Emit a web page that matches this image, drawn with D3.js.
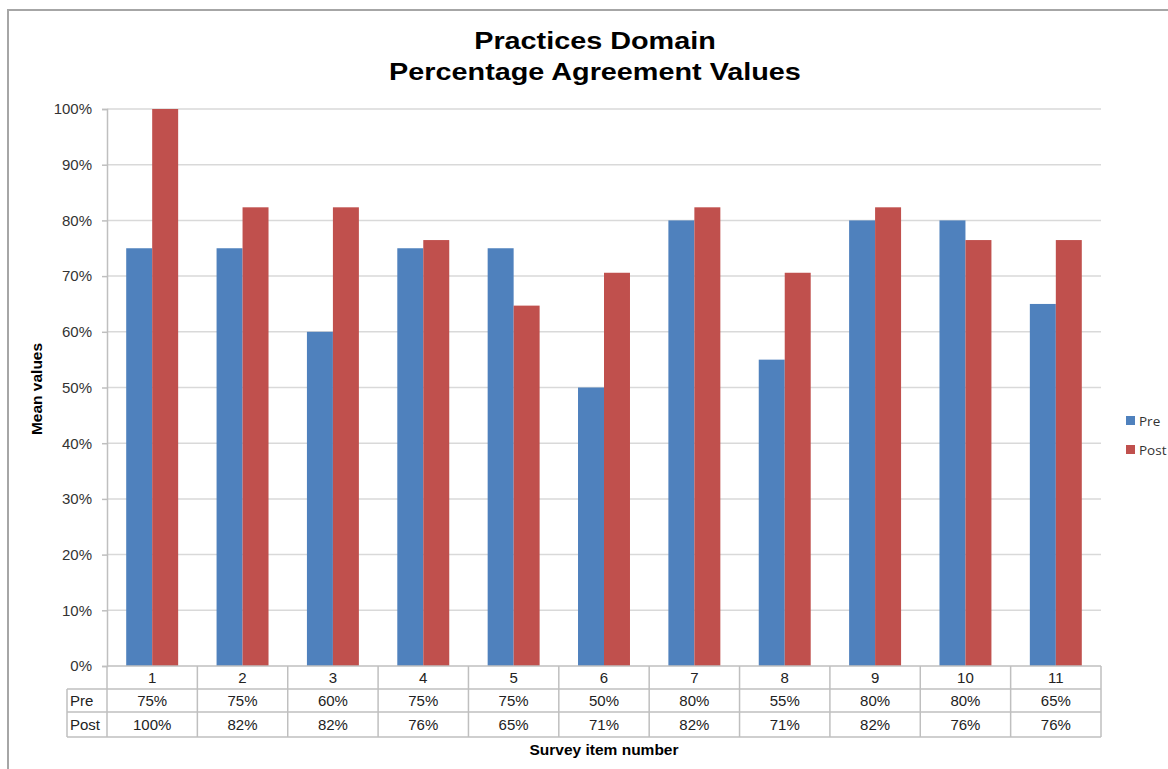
<!DOCTYPE html>
<html><head><meta charset="utf-8">
<script src="https://cdn.jsdelivr.net/npm/d3@7"></script>
<style>body{margin:0;background:#fff}svg{display:block}</style>
</head><body>
<script>
const categories = ["1","2","3","4","5","6","7","8","9","10","11"];
const preValues  = [0.75,0.75,0.60,0.75,0.75,0.50,0.80,0.55,0.80,0.80,0.65];
const postValues = [1.00,0.8235,0.8235,0.7647,0.647,0.706,0.8235,0.706,0.8235,0.7647,0.7647];
const preLabels  = ["75%","75%","60%","75%","75%","50%","80%","55%","80%","80%","65%"];
const postLabels = ["100%","82%","82%","76%","65%","71%","82%","71%","82%","76%","76%"];
const yTicks = [0,0.1,0.2,0.3,0.4,0.5,0.6,0.7,0.8,0.9,1.0];
const seriesNames = ["Pre","Post"];
const colors = ["#4f81bd","#c0504d"];

const W=1168,H=769;
const svg=d3.select("body").append("svg").attr("width",W).attr("height",H);
const font="Liberation Sans, Arial, sans-serif";

// outer border
svg.append("path").attr("d","M8,769 L8,10 L1168,10").attr("fill","none").attr("stroke","#a6a6a6").attr("stroke-width",2);

const L=107,R=1101,T=109,B=666;
const x=d3.scaleBand().domain(categories).range([L,R]).paddingInner(0.425).paddingOuter(0.2125);
const y=d3.scaleLinear().domain([0,1]).range([B,T]);
const xs=d3.scaleBand().domain(seriesNames).range([0,x.bandwidth()]);

// gridlines
svg.append("g").selectAll("line").data(yTicks.slice(1)).join("line")
 .attr("x1",L).attr("x2",R).attr("y1",d=>y(d)).attr("y2",d=>y(d))
 .attr("stroke","#d9d9d9").attr("stroke-width",1.5);

// y axis
const ya=svg.append("g").attr("transform",`translate(${L},0)`)
 .call(d3.axisLeft(y).tickValues(yTicks).tickFormat(d3.format(".0%")).tickSize(5).tickPadding(10));
ya.select(".domain").attr("stroke","#bfbfbf").attr("stroke-width",1.5);
ya.selectAll(".tick line").attr("stroke","#bfbfbf").attr("stroke-width",1.5);
ya.selectAll("text").attr("font-family",font).attr("font-size",15).attr("fill","#333");

// bars
const data=categories.map((c,i)=>({c,vals:[preValues[i],postValues[i]]}));
const g=svg.append("g");
data.forEach(d=>{
  g.selectAll(null).data(d.vals).join("rect")
   .attr("x",(v,j)=>x(d.c)+xs(seriesNames[j]))
   .attr("width",xs.bandwidth())
   .attr("y",v=>y(v)).attr("height",v=>B-y(v))
   .attr("fill",(v,j)=>colors[j]);
});

// data table
const rows=[B,689,712,737];
const bw=(R-L)/categories.length;
const tg=svg.append("g").attr("stroke","#bfbfbf").attr("stroke-width",1.5);
tg.append("line").attr("x1",L).attr("x2",R).attr("y1",B).attr("y2",B);
tg.append("line").attr("x1",67).attr("x2",R).attr("y1",rows[1]).attr("y2",rows[1]);
tg.append("line").attr("x1",67).attr("x2",R).attr("y1",rows[2]).attr("y2",rows[2]);
tg.append("line").attr("x1",67).attr("x2",R).attr("y1",rows[3]).attr("y2",rows[3]);
tg.append("line").attr("x1",67).attr("x2",67).attr("y1",rows[1]).attr("y2",rows[3]);
categories.forEach((c,i)=>{
  tg.append("line").attr("x1",L+i*bw).attr("x2",L+i*bw).attr("y1",B).attr("y2",rows[3]);
});
tg.append("line").attr("x1",R).attr("x2",R).attr("y1",B).attr("y2",rows[3]);

const txt=svg.append("g").attr("font-family",font).attr("font-size",15).attr("fill","#222");
categories.forEach((c,i)=>{
  const cx=x(c)+x.bandwidth()/2;
  txt.append("text").attr("x",cx).attr("y",683).attr("text-anchor","middle").text(c);
  txt.append("text").attr("x",cx).attr("y",706).attr("text-anchor","middle").text(preLabels[i]);
  txt.append("text").attr("x",cx).attr("y",730).attr("text-anchor","middle").text(postLabels[i]);
});
txt.append("text").attr("x",70).attr("y",706).text(seriesNames[0]);
txt.append("text").attr("x",70).attr("y",730).text(seriesNames[1]);

// axis titles
svg.append("text").attr("transform","translate(42,389) rotate(-90)").attr("text-anchor","middle")
 .attr("font-family",font).attr("font-weight","bold").attr("font-size",15.5).text("Mean values");
svg.append("text").attr("x",604).attr("y",755).attr("text-anchor","middle")
 .attr("font-family",font).attr("font-weight","bold").attr("font-size",15.5).text("Survey item number");

// title (horizontally stretched like the reference)
const tt=svg.append("text").attr("transform","translate(595,0) scale(1.2,1)").attr("text-anchor","middle")
 .attr("font-family",font).attr("font-weight","bold").attr("font-size",24).attr("fill","#000");
tt.append("tspan").attr("x",0).attr("y",49.5).text("Practices Domain");
tt.append("tspan").attr("x",0).attr("y",80.5).text("Percentage Agreement Values");

// legend
const lg=svg.append("g");
seriesNames.forEach((s,i)=>{
  const ly=421+i*29;
  lg.append("rect").attr("x",1126).attr("y",ly-5).attr("width",9).attr("height",9).attr("fill",colors[i]);
  lg.append("text").attr("x",1139).attr("y",ly+4.5).attr("font-family","Open Sans, sans-serif").attr("font-size",13.5).attr("fill","#333").text(s);
});
</script>
</body></html>
